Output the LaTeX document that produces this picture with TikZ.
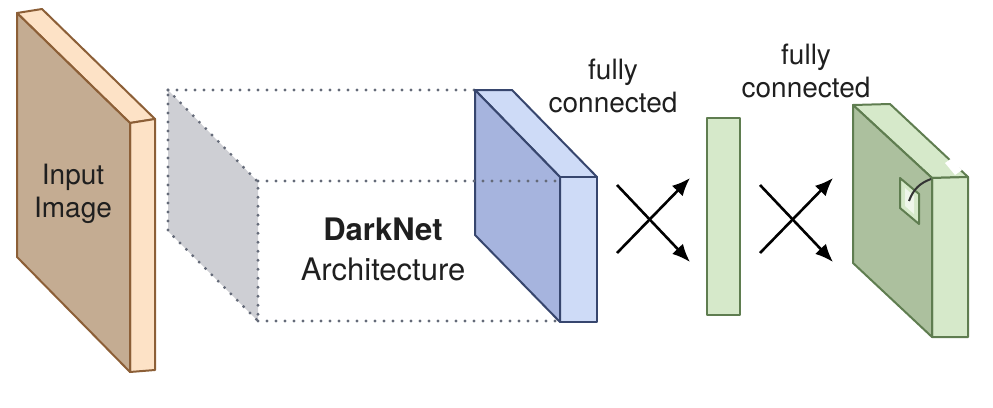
\documentclass[tikz,border=0pt]{standalone}
\usepackage{fontspec}
\setmainfont{TeX Gyre Heros}
\usetikzlibrary{arrows.meta}
\definecolor{imgfront}{RGB}{196,172,146}
\definecolor{imgside}{RGB}{253,226,198}
\definecolor{imgline}{RGB}{140,95,55}
\definecolor{dnfront}{RGB}{166,180,222}
\definecolor{dnside}{RGB}{206,219,247}
\definecolor{dnline}{RGB}{55,70,110}
\definecolor{fcfront}{RGB}{172,192,158}
\definecolor{fcside}{RGB}{214,233,202}
\definecolor{fcline}{RGB}{95,125,80}
\definecolor{ghost}{RGB}{206,207,212}
\definecolor{ghostline}{RGB}{100,106,120}
\tikzset{%
  >={Latex[width=15pt,length=18pt]},
  % Specifications for style of faces and texts:
       face/.style = {line width=2pt, line join=round},
   ghostdots/.style = {ghostline, line width=3.2pt, dash pattern=on 0pt off 9pt,
                       line cap=round},
        txt/.style = {text=black!88, align=center,
                      font=\fontsize{28}{33}\selectfont},
     bigtxt/.style = {txt, font=\fontsize{31}{40}\selectfont},
      cross/.style = {line width=2.6pt, ->}
}
\begin{document}
\begin{tikzpicture}[x=1pt, y=-1pt]
  \useasboundingbox (0,0) rectangle (993,407);

  % Input image slab
  \draw[face, imgline, fill=imgside] (17,13) -- (42,9) -- (155,119) -- (130,123) -- cycle;
  \draw[face, imgline, fill=imgside] (130,123) -- (155,119) -- (155,370) -- (130,372) -- cycle;
  \draw[face, imgline, fill=imgfront] (17,13) -- (130,123) -- (130,372) -- (17,257) -- cycle;

  % Ghost layer and dotted hull
  \fill[ghost] (168,90) -- (258,182) -- (258,321) -- (168,231) -- cycle;
  \draw[ghostdots] (168,90) -- (258,182) -- (258,321) -- (168,231) -- cycle;
  \draw[ghostdots] (168,90) -- (475,90);
  \draw[ghostdots] (258,321) -- (558,321);

  % DarkNet output slab
  \draw[face, dnline, fill=dnside] (475,90) -- (512,90) -- (597,177) -- (560,177) -- cycle;
  \draw[face, dnline, fill=dnside] (560,177) -- (597,177) -- (597,322) -- (560,322) -- cycle;
  \draw[face, dnline, fill=dnfront] (475,90) -- (560,177) -- (560,322) -- (475,235) -- cycle;
  \draw[ghostdots] (258,181) -- (555,181);

  % Fully connected layer
  \draw[face, fcline, fill=fcside] (707,118) rectangle (740,315);

  % Final output slab
  \draw[face, fcline, fill=fcside] (853,105) -- (890,104) -- (968,177) -- (932,178) -- cycle;
  \draw[face, fcline, fill=fcside] (932,178) -- (968,177) -- (968,337) -- (932,337) -- cycle;
  \draw[face, fcline, fill=fcfront] (853,105) -- (932,178) -- (932,337) -- (853,263) -- cycle;
  \fill[white] (945,163) -- (952,158) -- (962,170) -- (955,175) -- cycle;
  \draw[face, fcline, fill=fcside] (900,178) -- (919,194) -- (919,224) -- (900,208) -- cycle;
  \fill[white!60!fcside] (905,188) -- (914,196) -- (914,214) -- (905,206) -- cycle;
  \draw[line width=2pt, black!80] (909,201) to[bend left=25] (931,179);

  % Specification of texts
  \node[txt]    (input)   at (73,194)  {Input\\Image};
  \node[bigtxt] (darknet) at (383,249) {\textbf{DarkNet}\\Architecture};
  \node[txt]    (fcone)   at (613,86)  {fully\\connected};
  \node[txt]    (fctwo)   at (806,71)  {fully\\connected};

  % Specification of crossing connectors
  \coordinate (xa1) at (617,185);
  \coordinate (xa2) at (690,262);
  \coordinate (xa3) at (617,253);
  \coordinate (xa4) at (690,178);
  \coordinate (xb1) at (760,185);
  \coordinate (xb2) at (833,262);
  \coordinate (xb3) at (760,253);
  \coordinate (xb4) at (833,178);
  \draw[cross] (xa1) -- (xa2);
  \draw[cross] (xa3) -- (xa4);
  \draw[cross] (xb1) -- (xb2);
  \draw[cross] (xb3) -- (xb4);
\end{tikzpicture}
\end{document}
